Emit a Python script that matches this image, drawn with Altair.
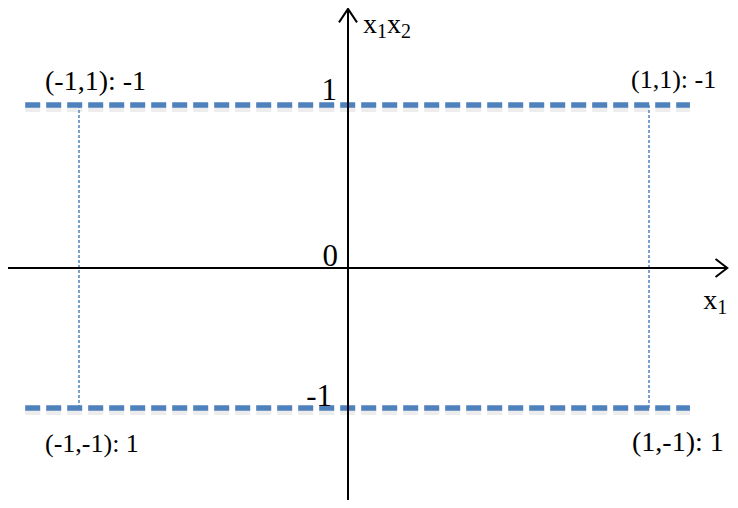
import altair as alt
import pandas as pd

# ---- data (diagram values) ----
level_y = [1, -1]                       # the two dashed levels of x1*x2
level_x_extent = [-1.2, 1.136]          # horizontal extent of dashed levels
corner_x = [-1, 1, -1, 1]
corner_y = [1, 1, -1, -1]
corner_labels = ["(-1,1): -1", "(1,1): -1", "(-1,-1): 1", "(1,-1):  1"]
tick_vals = [1, 0, -1]
tick_labels = ["1", "0", "-1"]
x_axis_extent = [-1.264, 1.26]
y_axis_extent = [-1.69, 1.59]
y_title_parts = ["x", "1", "x", "2"]
x_title_parts = ["x", "1"]

BLUE = "#4F81BD"
FONT = "Liberation Serif"

xs = alt.Scale(domain=[-1, 0, 1], range=[71, 340, 641], nice=False, zero=False)
ys = alt.Scale(domain=[-1, 0, 1], range=[400, 260, 97], nice=False, zero=False)


def X(f="x"):
    return alt.X(f"{f}:Q", scale=xs, axis=None)


def Y(f="y"):
    return alt.Y(f"{f}:Q", scale=ys, axis=None)


def txt(df, size, dx, dy, align="left"):
    return (alt.Chart(df).mark_text(align=align, baseline="alphabetic", font=FONT,
                                    fontSize=size, color="black", dx=dx, dy=dy)
            .encode(x=X(), y=Y(), text="t:N"))


layers = []

# dotted verticals
vdf = pd.DataFrame({"x": [-1, 1], "y": [level_y[0]] * 2, "y2": [level_y[1]] * 2})
layers.append(
    alt.Chart(vdf).mark_rule(color=BLUE, strokeWidth=1.5, strokeDash=[3, 2])
    .encode(x=X(), y=Y(), y2="y2:Q")
)

# dashed level lines (soft shadow + line)
hdf = pd.DataFrame({"x": [level_x_extent[0]] * 2, "x2": [level_x_extent[1]] * 2, "y": level_y})
layers.append(
    alt.Chart(hdf).mark_rule(color="#999999", opacity=0.18, strokeWidth=8,
                             strokeDash=[15, 6], yOffset=3)
    .encode(x=X(), x2="x2:Q", y=Y())
)
layers.append(
    alt.Chart(hdf).mark_rule(color=BLUE, strokeWidth=5.5, strokeDash=[15, 6])
    .encode(x=X(), x2="x2:Q", y=Y())
)

# axes
xa = pd.DataFrame({"x": [x_axis_extent[0]], "x2": [x_axis_extent[1]], "y": [0]})
ya = pd.DataFrame({"x": [0], "y": [y_axis_extent[0]], "y2": [y_axis_extent[1]]})
layers.append(alt.Chart(xa).mark_rule(color="black", strokeWidth=2)
              .encode(x=X(), x2="x2:Q", y=Y()))
layers.append(alt.Chart(ya).mark_rule(color="black", strokeWidth=2)
              .encode(x=X(), y=Y(), y2="y2:Q"))

# arrow heads
up = pd.DataFrame({"x": [0], "y": [y_axis_extent[1]]})
right = pd.DataFrame({"x": [x_axis_extent[1]], "y": [0]})
layers.append(alt.Chart(up).mark_point(shape="M-1,1.5L0,0L1,1.5", size=324, filled=False,
                                       stroke="black", strokeWidth=2, opacity=1)
              .encode(x=X(), y=Y()))
layers.append(alt.Chart(right).mark_point(shape="M-1.3,-1L0,0L-1.3,1", size=324, filled=False,
                                          stroke="black", strokeWidth=2, opacity=1)
              .encode(x=X(), y=Y()))

# corner labels
cdf = pd.DataFrame({"x": corner_x, "y": corner_y, "t": corner_labels})
offsets = [(28, -34, -15), (26, -18, -17), (26, -34, 44), (28, -17, 43)]
for i, (size, dx, dy) in enumerate(offsets):
    layers.append(txt(cdf.iloc[[i]], size, dx, dy))

# tick numbers on the vertical axis
tdf = pd.DataFrame({"x": [0] * 3, "y": tick_vals, "t": tick_labels})
toffs = [(-11, -5), (-10, -2), (-16, -2)]
for i, (dx, dy) in enumerate(toffs):
    layers.append(txt(tdf.iloc[[i]], 31, dx, dy, align="right"))

# axis titles built from base letters and subscripts
y_anchor = {"x": 0, "y": y_axis_extent[1]}
x_anchor = {"x": x_axis_extent[1], "y": 0}
y_parts_style = [(28, 15, 24), (20, 29, 29), (28, 39, 24), (20, 53, 29)]
for part, (size, dx, dy) in zip(y_title_parts, y_parts_style):
    layers.append(txt(pd.DataFrame({**{k: [v] for k, v in y_anchor.items()}, "t": [part]}),
                      size, dx, dy))
x_parts_style = [(28, -24, 41), (20, -10, 46)]
for part, (size, dx, dy) in zip(x_title_parts, x_parts_style):
    layers.append(txt(pd.DataFrame({**{k: [v] for k, v in x_anchor.items()}, "t": [part]}),
                      size, dx, dy))

chart = alt.layer(*layers).properties(
    width=722, height=492, padding=0, autosize=alt.AutoSizeParams(type="none")
).configure_view(stroke=None)

chart.save("out.html", embed_options={"renderer": "svg", "actions": False})
